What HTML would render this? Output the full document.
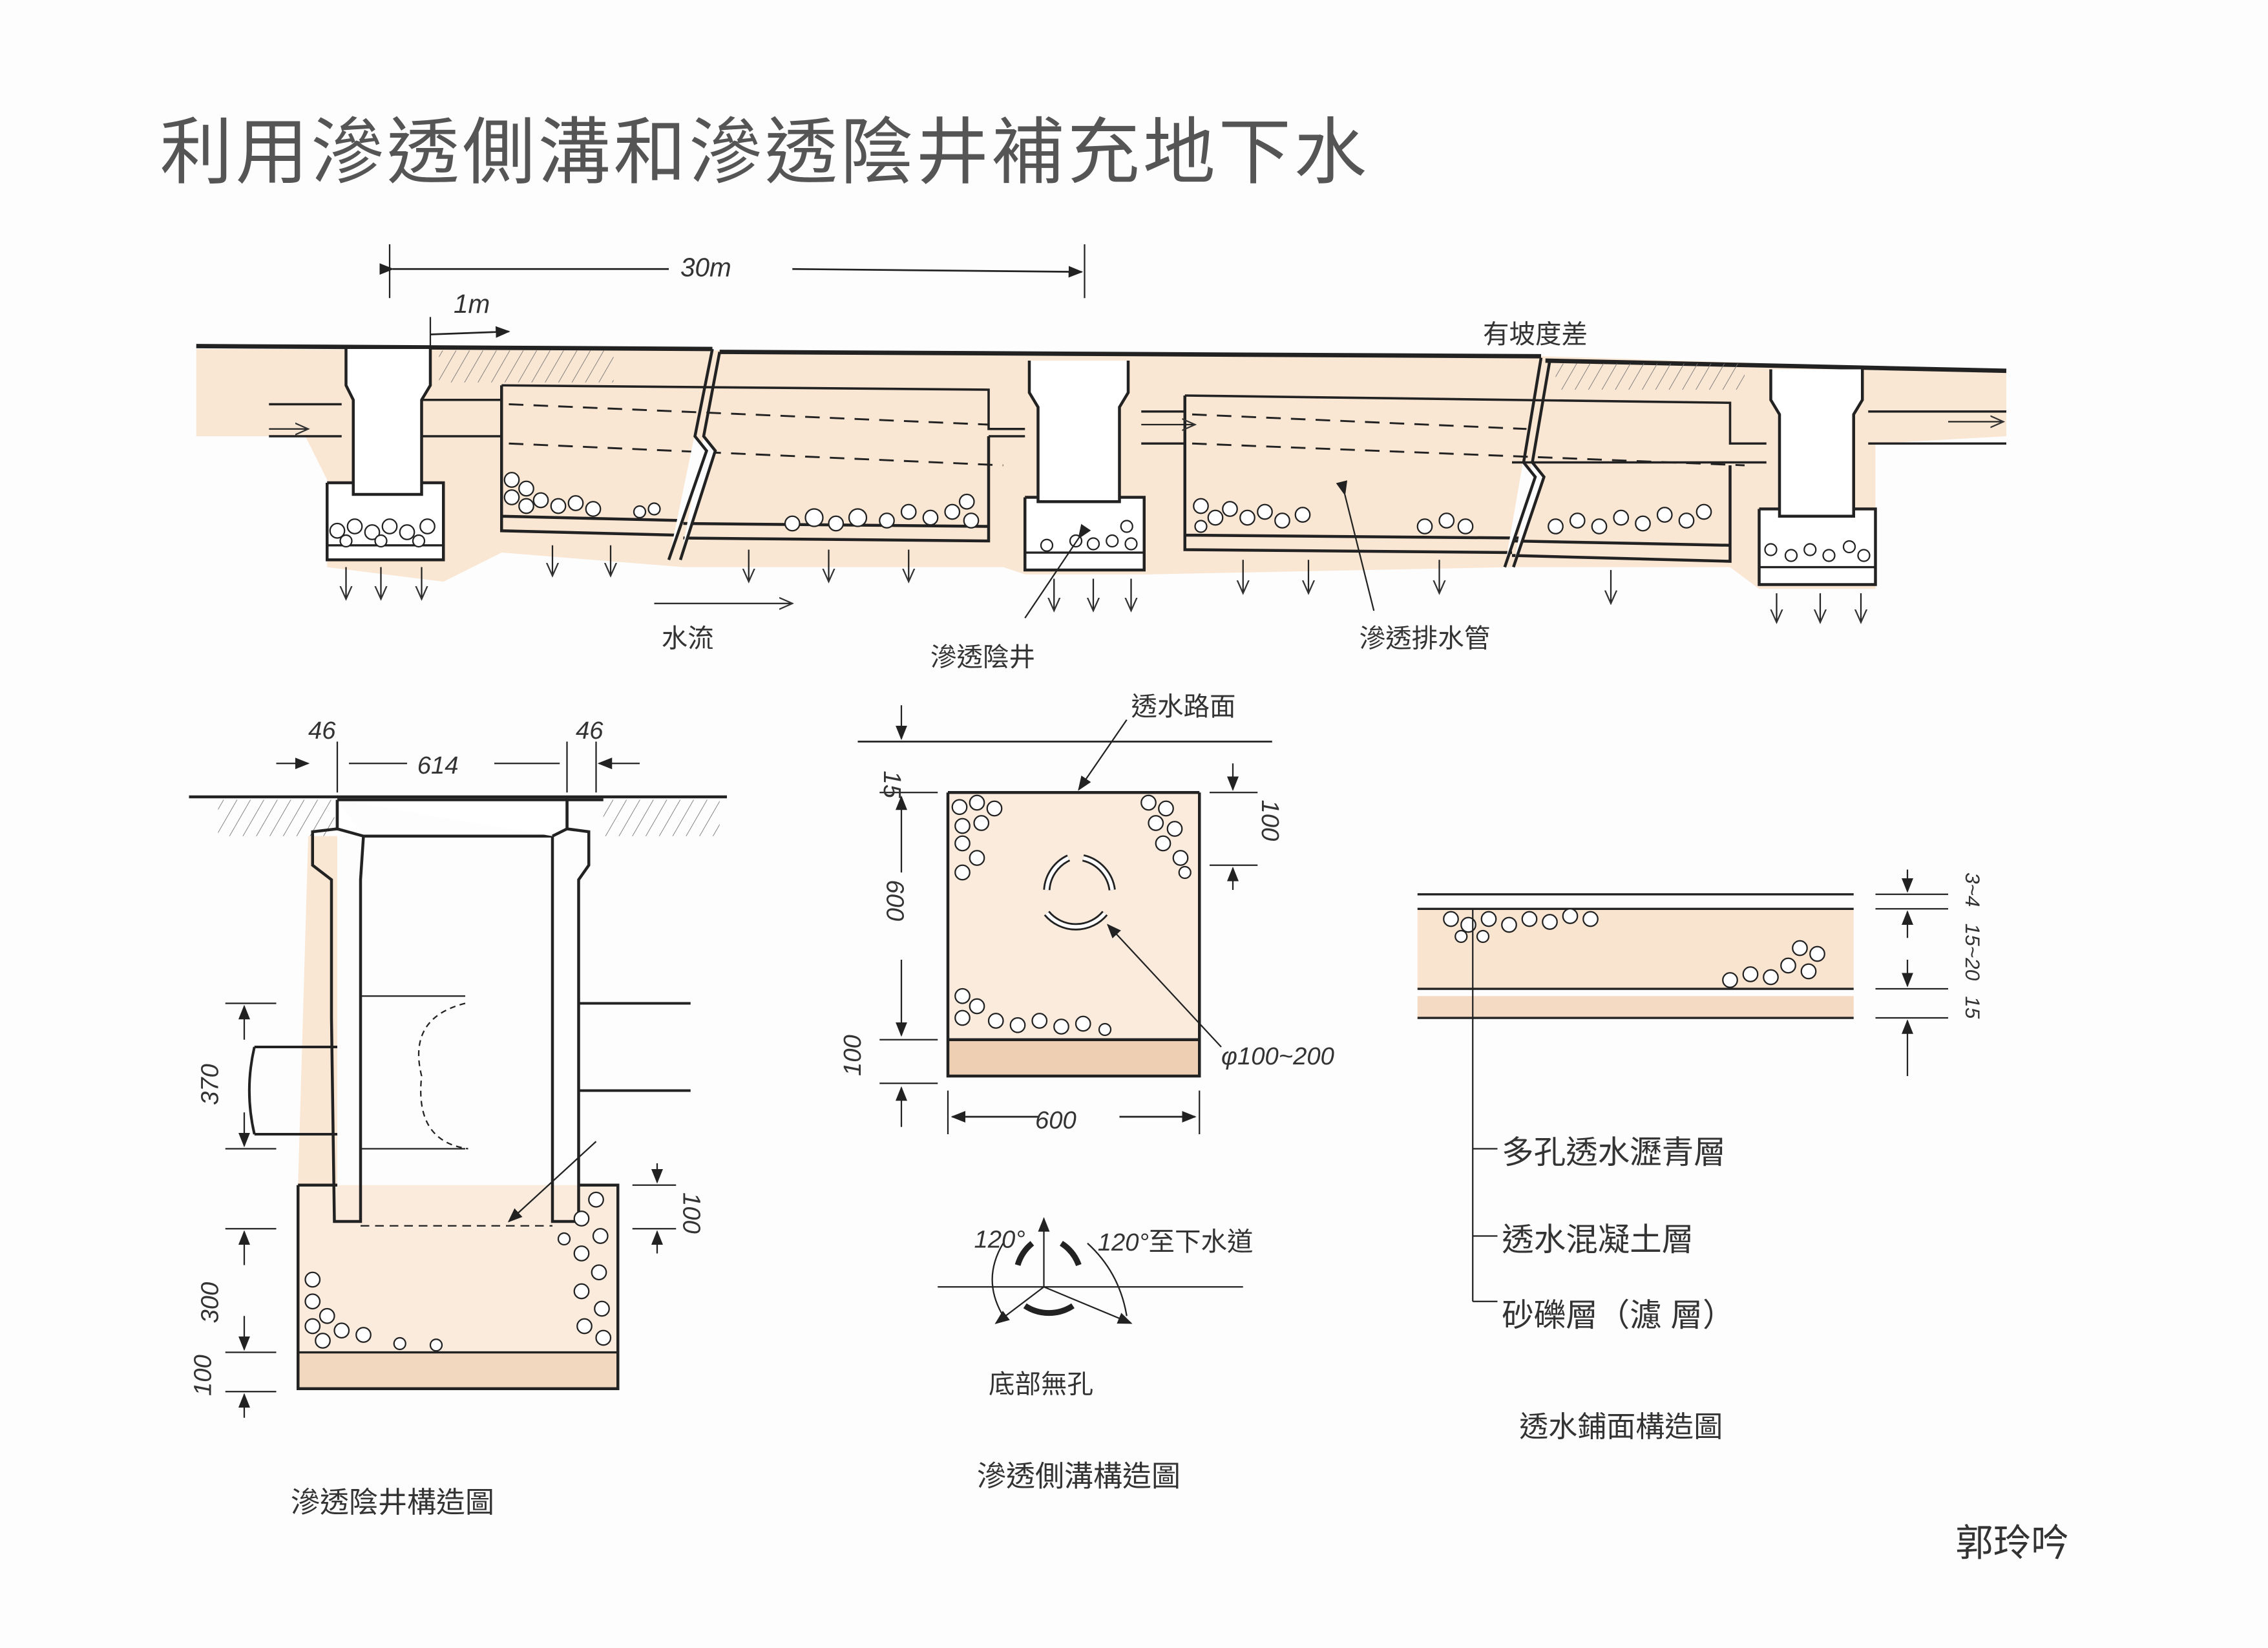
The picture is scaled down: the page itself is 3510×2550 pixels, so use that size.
<!DOCTYPE html>
<html><head><meta charset="utf-8"><style>
html,body{margin:0;padding:0;background:#fff;}
svg{display:block}
text{font-family:"Liberation Sans","Noto Sans CJK TC",sans-serif;fill:#333;}
</style></head><body>
<svg width="3510" height="2550" viewBox="0 0 1560 1133.33" xmlns="http://www.w3.org/2000/svg">
<defs>
<marker id="ah" markerWidth="10" markerHeight="10" refX="9" refY="5" orient="auto" markerUnits="userSpaceOnUse"><path d="M0,1 L10,5 L0,9 Z" fill="#222"/></marker>
<marker id="oa" markerWidth="10" markerHeight="10" refX="9" refY="5" orient="auto" markerUnits="userSpaceOnUse"><path d="M0,1 L9,5 L0,9" fill="none" stroke="#333" stroke-width="1"/></marker>
<pattern id="hat" width="8" height="8" patternUnits="userSpaceOnUse" patternTransform="rotate(30)"><line x1="0" y1="0" x2="0" y2="8" stroke="#777" stroke-width="0.8"/></pattern>
</defs>
<rect width="1560" height="1134" fill="#fdfdfd"/>

<!-- Title -->
<text x="110" y="122" font-size="50" fill="#555" letter-spacing="2" font-weight="normal" style="fill:#555">利用滲透側溝和滲透陰井補充地下水</text>

<!-- ===== TOP SECTION ===== -->
<g stroke="#222" fill="none">
<path d="M135,240 L490,241 L1060,245 L1380,255 L1380,300 L1290,305 L1290,405 L1210,405 L1190,390 L1040,390 L790,395 L705,395 L690,390 L470,390 L345,380 L305,400 L225,390 L225,330 L210,300 L135,300Z" fill="#f9e6d3" stroke="none"/>
<!-- ground -->
<path d="M135,238 L490,240 M495,242 L1060,245 M1063,248 L1380,255" stroke-width="3"/>
<rect x="302" y="241" width="120" height="22" fill="url(#hat)" stroke="none"/>
<rect x="1070" y="250" width="130" height="18" fill="url(#hat)" stroke="none"/>
<!-- pipe -->
<path d="M185,278 L235,278 M185,300 L235,300 M290,275 L345,275 M290,300 L345,300 M345,265 L680,268 L680,295 L705,295 M680,300 L705,300 M785,283 L815,283 M785,305 L815,305 M815,272 L1190,277 L1190,305 L1215,305 M1040,318 L1215,318 M1285,283 L1380,283 M1285,305 L1380,305" stroke-width="1.6"/>
<path d="M350,278 L680,292 M350,305 L690,320 M820,285 L1050,295 M820,305 L1200,320" stroke-dasharray="10,7" stroke-width="1.3"/>
<!-- wells -->
<path d="M238,240 L238,265 L243,275 L243,340 L290,340 L290,275 L296,265 L296,240 M225,332 L225,385 L305,385 L305,332 L290,332 M225,332 L243,332" stroke-width="2" fill="#fff"/>
<path d="M225,375 L305,375" stroke-width="1.5"/>
<path d="M708,248 L708,270 L714,280 L714,345 L770,345 L770,280 L776,270 L776,248 M705,342 L705,392 L787,392 L787,342 L770,342 M705,342 L714,342" stroke-width="2" fill="#fff"/>
<path d="M705,380 L787,380" stroke-width="1.5"/>
<path d="M1218,254 L1218,275 L1224,285 L1224,355 L1275,355 L1275,285 L1281,275 L1281,254 M1210,350 L1210,402 L1290,402 L1290,350 L1275,350 M1210,350 L1224,350" stroke-width="2" fill="#fff"/>
<path d="M1210,390 L1290,390" stroke-width="1.5"/>
<!-- trenches -->
<path d="M345,265 L345,365 L465,368 M345,355 L470,358" stroke-width="2"/>
<path d="M470,370 L680,372 L680,300 M470,360 L680,362" stroke-width="2"/>
<path d="M815,272 L815,378 L1040,380 M815,368 L1045,370" stroke-width="2"/>
<path d="M1040,382 L1190,386 L1190,320 M1040,372 L1190,375" stroke-width="2"/>
<!-- breaks -->
<path d="M490,240 L478,300 L486,310 L460,385 M495,242 L484,300 L492,310 L468,385" stroke-width="2" fill="#fdfdfd"/>
<path d="M1060,246 L1048,318 L1056,328 L1035,390 M1066,248 L1054,318 L1062,328 L1041,390" stroke-width="2" fill="#fdfdfd"/>
<!-- gravel -->
<g stroke-width="1" fill="#fff">
<circle cx="232" cy="365" r="5"/><circle cx="244" cy="362" r="5"/><circle cx="256" cy="366" r="5"/><circle cx="268" cy="362" r="5"/><circle cx="280" cy="366" r="5"/><circle cx="294" cy="362" r="5"/><circle cx="238" cy="372" r="4"/><circle cx="262" cy="372" r="4"/><circle cx="288" cy="372" r="4"/>
<circle cx="352" cy="330" r="5"/><circle cx="352" cy="342" r="5"/><circle cx="362" cy="348" r="5"/><circle cx="372" cy="344" r="5"/><circle cx="384" cy="348" r="5"/><circle cx="396" cy="346" r="5"/><circle cx="408" cy="350" r="5"/><circle cx="362" cy="336" r="5"/><circle cx="440" cy="352" r="4"/><circle cx="450" cy="350" r="4"/>
<circle cx="545" cy="360" r="5"/><circle cx="560" cy="356" r="6"/><circle cx="575" cy="360" r="5"/><circle cx="590" cy="356" r="6"/><circle cx="610" cy="358" r="5"/><circle cx="625" cy="352" r="5"/><circle cx="640" cy="356" r="5"/><circle cx="655" cy="352" r="5"/><circle cx="665" cy="345" r="5"/><circle cx="668" cy="358" r="5"/>
<circle cx="826" cy="348" r="5"/><circle cx="836" cy="356" r="5"/><circle cx="846" cy="350" r="5"/><circle cx="858" cy="356" r="5"/><circle cx="870" cy="352" r="5"/><circle cx="882" cy="358" r="5"/><circle cx="896" cy="354" r="5"/><circle cx="826" cy="362" r="4"/><circle cx="980" cy="362" r="5"/><circle cx="995" cy="358" r="5"/><circle cx="1008" cy="362" r="5"/>
<circle cx="1070" cy="362" r="5"/><circle cx="1085" cy="358" r="5"/><circle cx="1100" cy="362" r="5"/><circle cx="1115" cy="356" r="5"/><circle cx="1130" cy="360" r="5"/><circle cx="1145" cy="354" r="5"/><circle cx="1160" cy="358" r="5"/><circle cx="1172" cy="352" r="5"/>
<circle cx="720" cy="375" r="4"/><circle cx="740" cy="372" r="4"/><circle cx="752" cy="374" r="4"/><circle cx="765" cy="372" r="4"/><circle cx="778" cy="374" r="4"/><circle cx="775" cy="362" r="4"/>
<circle cx="1218" cy="378" r="4"/><circle cx="1232" cy="382" r="4"/><circle cx="1245" cy="378" r="4"/><circle cx="1258" cy="382" r="4"/><circle cx="1272" cy="376" r="4"/><circle cx="1282" cy="382" r="4"/>
</g>
<!-- down arrows -->
<g stroke-width="1" marker-end="url(#oa)">
<line x1="238" y1="390" x2="238" y2="412"/><line x1="262" y1="390" x2="262" y2="412"/><line x1="290" y1="390" x2="290" y2="412"/>
<line x1="380" y1="375" x2="380" y2="396"/><line x1="420" y1="375" x2="420" y2="396"/>
<line x1="515" y1="378" x2="515" y2="400"/><line x1="570" y1="378" x2="570" y2="400"/><line x1="625" y1="378" x2="625" y2="400"/>
<line x1="725" y1="398" x2="725" y2="420"/><line x1="752" y1="398" x2="752" y2="420"/><line x1="778" y1="398" x2="778" y2="420"/>
<line x1="855" y1="385" x2="855" y2="408"/><line x1="900" y1="385" x2="900" y2="408"/><line x1="990" y1="385" x2="990" y2="408"/><line x1="1108" y1="392" x2="1108" y2="415"/>
<line x1="1222" y1="408" x2="1222" y2="428"/><line x1="1252" y1="408" x2="1252" y2="428"/><line x1="1280" y1="408" x2="1280" y2="428"/>
<line x1="185" y1="295" x2="212" y2="295"/><line x1="785" y1="292" x2="822" y2="292"/><line x1="1340" y1="290" x2="1378" y2="290"/>
<line x1="450" y1="415" x2="545" y2="415"/>
</g>
<!-- dims -->
<line x1="268" y1="168" x2="268" y2="205" stroke-width="1"/><line x1="746" y1="168" x2="746" y2="205" stroke-width="1"/>
<line x1="270" y1="185" x2="460" y2="185" stroke-width="1.2" marker-start="url(#ah)"/>
<line x1="545" y1="185" x2="744" y2="187" stroke-width="1.2" marker-end="url(#ah)"/>
<line x1="296" y1="230" x2="350" y2="228" stroke-width="1.2" marker-end="url(#ah)"/>
<line x1="296" y1="218" x2="296" y2="240" stroke-width="1"/>
<line x1="742" y1="370" x2="705" y2="425" stroke-width="1" marker-start="url(#ah)"/>
<line x1="925" y1="340" x2="945" y2="420" stroke-width="1" marker-start="url(#ah)"/>
</g>
<g font-size="18">
<text x="468" y="190" font-style="italic">30m</text>
<text x="312" y="215" font-style="italic">1m</text>
<text x="1020" y="236">有坡度差</text>
<text x="455" y="445">水流</text>
<text x="640" y="458">滲透陰井</text>
<text x="935" y="445">滲透排水管</text>
</g>

<!-- ===== LOWER LEFT: well ===== -->
<g stroke="#222" fill="none">
<path d="M130,548 L500,548" stroke-width="2"/>
<rect x="150" y="550" width="80" height="25" fill="url(#hat)" stroke="none"/>
<rect x="415" y="550" width="80" height="25" fill="url(#hat)" stroke="none"/>
<path d="M212,575 L232,575 L232,840 L205,840 L205,815Z" fill="#f9e6d3" stroke="none"/>
<path d="M205,815 L425,815 L425,955 L205,955Z" fill="#faebdc" stroke="none"/>
<path d="M205,930 L425,930 L425,955 L205,955Z" fill="#f3d8c0" stroke="none"/>
<path d="M232,550 L232,570 L215,572 L215,595 L228,605 L228,700 L230,840 L248,840 L248,605 L250,575 L380,575 L380,605 L380,840 L398,840 L398,605 L405,595 L405,572 L390,570 L390,550 L415,550" stroke-width="2"/>
<path d="M232,550 L232,570 L250,575 M232,550 L390,550 L390,570 L380,575" stroke-width="2" fill="#fff"/>
<path d="M205,815 L232,815 M205,815 L205,955 L425,955 L425,815 L398,815" stroke-width="2"/>
<path d="M205,930 L425,930" stroke-width="1.5"/>
<path d="M248,843 L380,843" stroke-width="1" stroke-dasharray="6,4"/>
<path d="M175,720 L232,720 M175,780 L232,780 M175,720 Q168,750 175,780" stroke-width="1.8"/>
<path d="M248,685 L320,685 M248,790 L320,790" stroke-width="1"/>
<path d="M320,690 Q280,700 290,740 Q285,785 322,790" stroke-width="1" stroke-dasharray="4,3"/>
<path d="M398,690 L475,690 M398,750 L475,750" stroke-width="1.8"/>
<g stroke-width="1" fill="#fff">
<circle cx="215" cy="880" r="5"/><circle cx="215" cy="895" r="5"/><circle cx="225" cy="905" r="5"/><circle cx="215" cy="912" r="5"/><circle cx="235" cy="915" r="5"/><circle cx="222" cy="922" r="5"/><circle cx="250" cy="918" r="5"/><circle cx="275" cy="924" r="4"/><circle cx="300" cy="925" r="4"/>
<circle cx="410" cy="825" r="5"/><circle cx="400" cy="838" r="5"/><circle cx="413" cy="850" r="5"/><circle cx="400" cy="862" r="5"/><circle cx="412" cy="875" r="5"/><circle cx="400" cy="888" r="5"/><circle cx="414" cy="900" r="5"/><circle cx="402" cy="912" r="5"/><circle cx="415" cy="920" r="5"/><circle cx="388" cy="852" r="4"/>
</g>
<line x1="410" y1="785" x2="350" y2="840" stroke-width="1" marker-end="url(#ah)"/>
<!-- dims -->
<line x1="190" y1="525" x2="212" y2="525" stroke-width="1" marker-end="url(#ah)"/>
<line x1="232" y1="510" x2="232" y2="545" stroke-width="1"/>
<line x1="240" y1="525" x2="280" y2="525" stroke-width="1"/><line x1="340" y1="525" x2="385" y2="525" stroke-width="1"/>
<line x1="390" y1="510" x2="390" y2="545" stroke-width="1"/><line x1="410" y1="510" x2="410" y2="545" stroke-width="1"/>
<line x1="440" y1="525" x2="412" y2="525" stroke-width="1" marker-end="url(#ah)"/>
<line x1="155" y1="690" x2="190" y2="690" stroke-width="1"/><line x1="155" y1="790" x2="190" y2="790" stroke-width="1"/>
<line x1="168" y1="715" x2="168" y2="692" stroke-width="1" marker-end="url(#ah)"/><line x1="168" y1="765" x2="168" y2="788" stroke-width="1" marker-end="url(#ah)"/>
<line x1="155" y1="845" x2="190" y2="845" stroke-width="1"/><line x1="155" y1="930" x2="190" y2="930" stroke-width="1"/><line x1="155" y1="957" x2="190" y2="957" stroke-width="1"/>
<line x1="168" y1="870" x2="168" y2="847" stroke-width="1" marker-end="url(#ah)"/><line x1="168" y1="905" x2="168" y2="928" stroke-width="1" marker-end="url(#ah)"/>
<line x1="168" y1="975" x2="168" y2="959" stroke-width="1" marker-end="url(#ah)"/>
<line x1="435" y1="815" x2="465" y2="815" stroke-width="1"/><line x1="435" y1="845" x2="465" y2="845" stroke-width="1"/>
<line x1="452" y1="800" x2="452" y2="813" stroke-width="1" marker-end="url(#ah)"/><line x1="452" y1="862" x2="452" y2="847" stroke-width="1" marker-end="url(#ah)"/>
</g>
<g font-size="17" font-style="italic">
<text x="212" y="508">46</text><text x="287" y="532">614</text><text x="396" y="508">46</text>
<text transform="translate(150,760) rotate(-90)">370</text>
<text transform="translate(150,910) rotate(-90)">300</text>
<text transform="translate(145,960) rotate(-90)">100</text>
<text transform="translate(470,820) rotate(90)">100</text>
</g>
<text x="200" y="1040" font-size="20">滲透陰井構造圖</text>

<!-- ===== MIDDLE: trench ===== -->
<g stroke="#222" fill="none">
<line x1="590" y1="510" x2="875" y2="510" stroke-width="1.2"/>
<path d="M652,545 L825,545 L825,740 L652,740Z" fill="#faebdc" stroke="none"/>
<path d="M652,715 L825,715 L825,740 L652,740Z" fill="#efcfb3" stroke="none"/>
<path d="M652,545 L652,740 L825,740 L825,545 M652,545 L825,545 M652,715 L825,715" stroke-width="2"/>
<g stroke-width="1" fill="#fff">
<circle cx="660" cy="555" r="5"/><circle cx="672" cy="552" r="5"/><circle cx="684" cy="556" r="5"/><circle cx="662" cy="568" r="5"/><circle cx="675" cy="566" r="5"/><circle cx="662" cy="580" r="5"/><circle cx="672" cy="590" r="5"/><circle cx="662" cy="600" r="5"/>
<circle cx="790" cy="552" r="5"/><circle cx="802" cy="556" r="5"/><circle cx="795" cy="566" r="5"/><circle cx="808" cy="570" r="5"/><circle cx="800" cy="580" r="5"/><circle cx="812" cy="590" r="5"/><circle cx="815" cy="600" r="4"/>
<circle cx="662" cy="685" r="5"/><circle cx="672" cy="692" r="5"/><circle cx="662" cy="700" r="5"/><circle cx="685" cy="702" r="5"/><circle cx="700" cy="705" r="5"/><circle cx="715" cy="702" r="5"/><circle cx="730" cy="706" r="5"/><circle cx="745" cy="704" r="5"/><circle cx="760" cy="708" r="4"/>
</g>
<path d="M720,612 A26,26 0 0 1 735,590 M745,590 A26,26 0 0 1 765,612 M760,628 A26,26 0 0 1 720,628" stroke-width="5"/>
<path d="M720,612 A26,26 0 0 1 735,590 M745,590 A26,26 0 0 1 765,612 M760,628 A26,26 0 0 1 720,628" stroke-width="2.5" stroke="#fff"/>
<line x1="840" y1="720" x2="762" y2="636" stroke-width="1" marker-end="url(#ah)"/>
<line x1="775" y1="495" x2="742" y2="543" stroke-width="1" marker-end="url(#ah)"/>
<line x1="652" y1="750" x2="652" y2="780" stroke-width="1"/><line x1="825" y1="750" x2="825" y2="780" stroke-width="1"/>
<line x1="715" y1="768" x2="655" y2="768" stroke-width="1.2" marker-end="url(#ah)"/><line x1="770" y1="768" x2="822" y2="768" stroke-width="1.2" marker-end="url(#ah)"/>
<line x1="605" y1="545" x2="645" y2="545" stroke-width="1"/><line x1="605" y1="715" x2="645" y2="715" stroke-width="1"/><line x1="605" y1="745" x2="645" y2="745" stroke-width="1"/>
<line x1="620" y1="600" x2="620" y2="548" stroke-width="1" marker-end="url(#ah)"/><line x1="620" y1="660" x2="620" y2="712" stroke-width="1" marker-end="url(#ah)"/>
<line x1="620" y1="775" x2="620" y2="748" stroke-width="1" marker-end="url(#ah)"/>
<line x1="620" y1="485" x2="620" y2="508" stroke-width="1" marker-end="url(#ah)"/>
<line x1="832" y1="545" x2="865" y2="545" stroke-width="1"/><line x1="832" y1="595" x2="865" y2="595" stroke-width="1"/>
<line x1="848" y1="525" x2="848" y2="543" stroke-width="1" marker-end="url(#ah)"/><line x1="848" y1="612" x2="848" y2="597" stroke-width="1" marker-end="url(#ah)"/>
<!-- small diagram -->
<line x1="645" y1="885" x2="855" y2="885" stroke-width="1"/>
<path d="M700,870 A30,30 0 0 1 710,855 M730,855 A30,30 0 0 1 742,870 M738,898 A30,30 0 0 1 705,898" stroke-width="4"/>
<line x1="718" y1="885" x2="718" y2="838" stroke-width="1" marker-end="url(#ah)"/>
<line x1="718" y1="885" x2="685" y2="910" stroke-width="1" marker-end="url(#ah)"/>
<line x1="718" y1="885" x2="778" y2="910" stroke-width="1" marker-end="url(#ah)"/>
<path d="M690,855 Q675,880 690,905 M748,855 Q770,875 775,905" stroke-width="1"/>
</g>
<g font-size="17" font-style="italic">
<text transform="translate(608,530) rotate(90)">15</text>
<text transform="translate(610,605) rotate(90)">600</text>
<text transform="translate(592,740) rotate(-90)">100</text>
<text transform="translate(868,550) rotate(90)">100</text>
<text x="712" y="776">600</text>
<text x="840" y="732">φ100~200</text>
<text x="670" y="858">120°</text><text x="755" y="860">120°</text>
</g>
<g font-size="18">
<text x="778" y="492">透水路面</text>
<text x="790" y="860">至下水道</text>
<text x="680" y="958">底部無孔</text>
<text x="672" y="1022" font-size="20">滲透側溝構造圖</text>
</g>

<!-- ===== RIGHT: pavement ===== -->
<g stroke="#222" fill="none">
<path d="M975,625 L1275,625 L1275,680 L975,680Z" fill="#f9e4d0" stroke="none"/>
<path d="M975,685 L1275,685 L1275,700 L975,700Z" fill="#f5dac3" stroke="none"/>
<path d="M975,615 L1275,615 M975,625 L1275,625 M975,680 L1275,680 M975,700 L1275,700" stroke-width="1.5"/>
<g stroke-width="1" fill="#fff">
<circle cx="998" cy="632" r="5"/><circle cx="1010" cy="636" r="5"/><circle cx="1024" cy="632" r="5"/><circle cx="1038" cy="636" r="5"/><circle cx="1052" cy="632" r="5"/><circle cx="1066" cy="634" r="5"/><circle cx="1080" cy="630" r="5"/><circle cx="1094" cy="632" r="5"/><circle cx="1005" cy="644" r="4"/><circle cx="1020" cy="644" r="4"/>
<circle cx="1190" cy="674" r="5"/><circle cx="1204" cy="670" r="5"/><circle cx="1218" cy="672" r="5"/><circle cx="1230" cy="664" r="5"/><circle cx="1244" cy="668" r="5"/><circle cx="1250" cy="656" r="5"/><circle cx="1238" cy="652" r="5"/>
</g>
<path d="M1013,625 L1013,895 M1013,790 L1030,790 M1013,850 L1030,850 M1013,895 L1030,895" stroke-width="1"/>
<line x1="1290" y1="615" x2="1340" y2="615" stroke-width="1"/><line x1="1290" y1="625" x2="1340" y2="625" stroke-width="1"/>
<line x1="1290" y1="680" x2="1340" y2="680" stroke-width="1"/><line x1="1290" y1="700" x2="1340" y2="700" stroke-width="1"/>
<line x1="1312" y1="598" x2="1312" y2="613" stroke-width="1" marker-end="url(#ah)"/>
<line x1="1312" y1="645" x2="1312" y2="627" stroke-width="1" marker-end="url(#ah)"/><line x1="1312" y1="660" x2="1312" y2="678" stroke-width="1" marker-end="url(#ah)"/>
<line x1="1312" y1="740" x2="1312" y2="702" stroke-width="1" marker-end="url(#ah)"/>
</g>
<g font-size="14" font-style="italic">
<text transform="translate(1352,600) rotate(90)">3~4</text>
<text transform="translate(1352,635) rotate(90)">15~20</text>
<text transform="translate(1352,685) rotate(90)">15</text>
</g>
<g font-size="22">
<text x="1033" y="800">多孔透水瀝青層</text>
<text x="1033" y="860">透水混凝土層</text>
<text x="1033" y="912">砂礫層（濾 層）</text>
<text x="1045" y="988" font-size="20">透水鋪面構造圖</text>
<text x="1345" y="1070" font-size="26">郭玲吟</text>
</g>
</svg>
</body></html>
